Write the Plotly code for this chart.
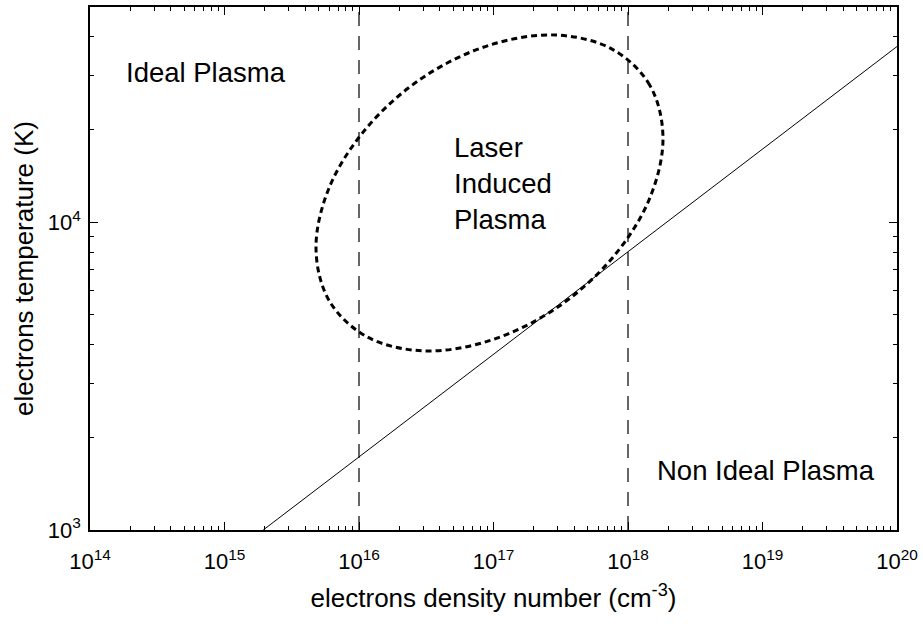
import numpy as np
import plotly.graph_objects as go

# Axis ticks
density_ticks = [1e14, 1e15, 1e16, 1e17, 1e18, 1e19, 1e20]
density_labels = ["10<sup>14</sup>", "10<sup>15</sup>", "10<sup>16</sup>", "10<sup>17</sup>",
                  "10<sup>18</sup>", "10<sup>19</sup>", "10<sup>20</sup>"]
temp_ticks = [1e3, 1e4]
temp_labels = ["10<sup>3</sup>", "10<sup>4</sup>"]

# Ideal / non-ideal boundary (T ~ n^(1/3))
boundary_density = [1.94e15, 1e20]
boundary_temp = [1000, 37210]

# Density limits of laser induced plasma (vertical guides)
guide_density = [1e16, 1e18]

# Laser induced plasma domain outline
lip_density = [1.82e18, 1.452e18, 7.62e17, 2.91e17, 9.33e16, 2.99e16, 1.143e16, 6.0e15,
               4.79e15, 6.0e15, 1.143e16, 2.99e16, 9.33e16, 2.91e17, 7.62e17, 1.452e18, 1.82e18]
lip_temp = [18880, 27860, 36480, 40550, 37580, 29510, 20280, 12940,
            8200, 5560, 4246, 3819, 4121, 5248, 7638, 11970, 18880]

FONT = "Liberation Sans, Arial, sans-serif"
Y_MIN, Y_MAX = 1e3, 5e4

fig = go.Figure()

for gx in guide_density:
    fig.add_trace(go.Scatter(x=[gx, gx], y=[Y_MIN, Y_MAX], mode="lines",
                             line=dict(color="black", width=1.2, dash="14px,10px"),
                             showlegend=False, hoverinfo="skip"))

fig.add_trace(go.Scatter(x=boundary_density, y=boundary_temp, mode="lines",
                         line=dict(color="black", width=1), showlegend=False))

fig.add_trace(go.Scatter(x=lip_density, y=lip_temp, mode="lines",
                         line=dict(color="black", width=3, dash="6px,4px",
                                   shape="spline", smoothing=1.0),
                         showlegend=False))

minor_x = [float(m) * 10.0 ** e for e in range(14, 20) for m in range(2, 10)]
minor_y = [float(m) * 10.0 ** e for e in range(3, 5) for m in range(2, 10) if m * 10 ** e <= Y_MAX]

axis_common = dict(type="log", showgrid=False, zeroline=False, showline=True,
                   linecolor="black", linewidth=1.5, mirror="ticks",
                   ticks="inside", ticklen=8, tickwidth=1, tickcolor="black",
                   tickfont=dict(family=FONT, size=22, color="black"))

fig.update_layout(
    width=923, height=628,
    margin=dict(l=90, r=26, t=5, b=98),
    paper_bgcolor="white", plot_bgcolor="white",
    xaxis=dict(range=[14, 20], tickmode="array", tickvals=density_ticks, ticktext=density_labels,
               ticklabelstandoff=11,
               minor=dict(tickmode="array", tickvals=minor_x, ticks="inside", ticklen=4,
                          tickcolor="black", showgrid=False),
               title=dict(text="electrons density number (cm<sup>-3</sup>)",
                          font=dict(family=FONT, size=26, color="black"), standoff=16),
               **axis_common),
    yaxis=dict(range=[3, float(np.log10(Y_MAX))], tickmode="array", tickvals=temp_ticks, ticktext=temp_labels,
               ticklabelstandoff=3,
               minor=dict(tickmode="array", tickvals=minor_y, ticks="inside", ticklen=4,
                          tickcolor="black", showgrid=False),
               title=dict(text="electrons temperature (K)",
                          font=dict(family=FONT, size=26, color="black"), standoff=7),
               **axis_common),
    annotations=[
        dict(x=14.253, y=4.485, xref="x", yref="y", text="Ideal Plasma", showarrow=False,
             xanchor="left", yanchor="middle", font=dict(family=FONT, size=27.5, color="black")),
        dict(x=16.688, y=4.126, xref="x", yref="y", text="Laser<br>Induced<br>Plasma", showarrow=False,
             xanchor="left", yanchor="middle", align="left",
             font=dict(family=FONT, size=27.5, color="black")),
        dict(x=18.20, y=3.194, xref="x", yref="y", text="Non Ideal Plasma", showarrow=False,
             xanchor="left", yanchor="middle", font=dict(family=FONT, size=27.5, color="black")),
    ],
)

fig.write_html("out.html")
